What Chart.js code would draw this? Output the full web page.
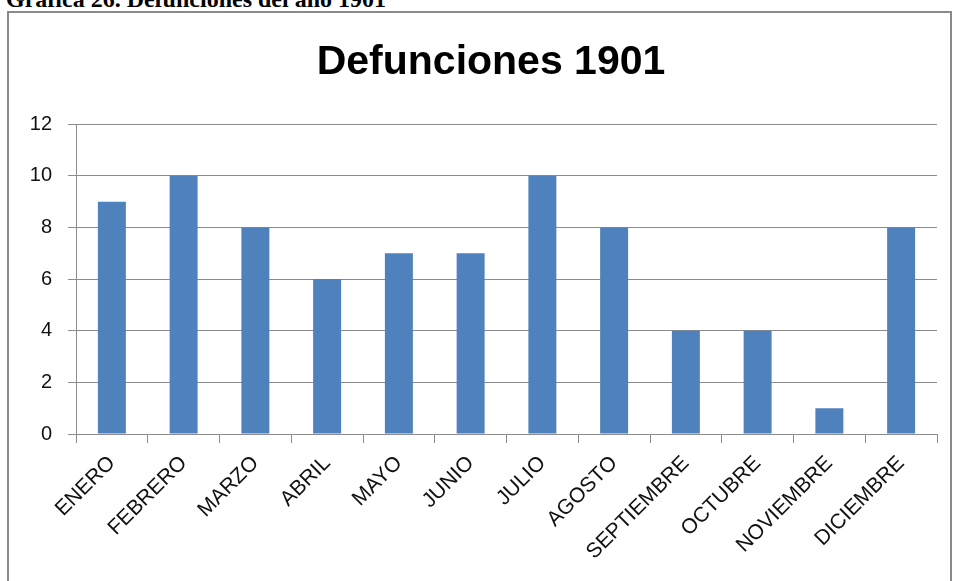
<!DOCTYPE html>
<html>
<head>
<meta charset="utf-8">
<script src="https://cdn.jsdelivr.net/npm/chart.js@4"></script>
<style>
  html, body { margin: 0; padding: 0; background: #fff; }
  body { width: 956px; height: 581px; position: relative; overflow: hidden; }
  #caption {
    position: absolute; left: 6px; top: -13px;
    font: bold 24px "Liberation Serif", serif; line-height: 24px;
    color: #000; white-space: nowrap;
  }
  #frame {
    position: absolute; left: 7px; top: 11px; width: 941px; height: 600px;
    border: 2px solid #8a8a8a;
  }
  #chart { position: absolute; left: 0; top: 0; }
</style>
</head>
<body>
<div id="caption">Gráfica 26. Defunciones del año 1901</div>
<div id="frame"></div>
<canvas id="chart" width="956" height="581"></canvas>
<script>
// ===================== DATA =====================
const MONTHS = ['ENERO', 'FEBRERO', 'MARZO', 'ABRIL', 'MAYO', 'JUNIO', 'JULIO',
                'AGOSTO', 'SEPTIEMBRE', 'OCTUBRE', 'NOVIEMBRE', 'DICIEMBRE'];
const DEATHS = [9, 10, 8, 6, 7, 7, 10, 8, 4, 4, 1, 8];
const Y_TICKS = [0, 2, 4, 6, 8, 10, 12];

const FONT = "'Liberation Sans', Arial, sans-serif";
const GRID = '#8c8c8c';

// the left padding only serves to shift the title; let the y labels use that space
const widenY = {
  id: 'widenY',
  afterLayout(chart) { chart.scales.y.left = 0; }
};

new Chart(document.getElementById('chart'), {
  type: 'bar',
  data: {
    labels: MONTHS,
    datasets: [{
      label: 'Defunciones',
      data: DEATHS,
      backgroundColor: '#4f81bd',
      borderWidth: 0,
      categoryPercentage: 1,
      barPercentage: 0.39,
    }]
  },
  plugins: [widenY],
  options: {
    responsive: false,
    animation: false,
    layout: { padding: { left: 45, right: 19, top: 0, bottom: 0 } },
    plugins: {
      legend: { display: false },
      tooltip: { enabled: false },
      title: {
        display: true,
        text: 'Defunciones 1901',
        color: '#000',
        font: { family: FONT, size: 41, weight: 'bold', lineHeight: 1.2 },
        padding: { top: 38, bottom: 37 },
      }
    },
    scales: {
      x: {
        grid: { drawOnChartArea: false, drawTicks: true, tickLength: 9, color: GRID, offset: true },
        border: { color: GRID, width: 1 },
        ticks: {
          autoSkip: false, maxRotation: 45, minRotation: 45,
          color: '#111', padding: 8,
          font: { family: FONT, size: 21 },
        },
        afterFit: s => { s.height = 147; },
      },
      y: {
        min: 0, max: 12,
        afterBuildTicks: s => { s.ticks = Y_TICKS.map(v => ({ value: v })); },
        grid: { color: GRID, tickLength: 8 },
        border: { color: GRID, width: 1 },
        ticks: {
          color: '#111', padding: 16,
          font: { family: FONT, size: 20 },
        },
        afterFit: s => { s.width = 31; },
      }
    }
  }
});
</script>
</body>
</html>
